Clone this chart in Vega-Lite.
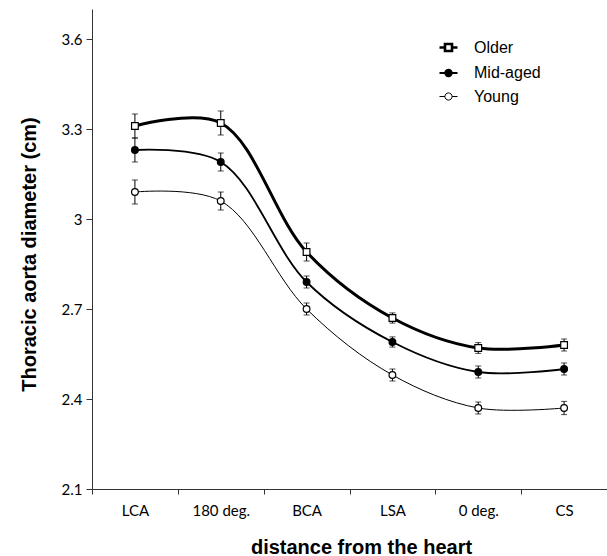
{
  "$schema": "https://vega.github.io/schema/vega-lite/v6.json",
  "width": 515,
  "height": 480,
  "autosize": {"type": "none"},
  "padding": {"left": 92, "top": 9, "right": 0, "bottom": 67},
  "background": "white",
  "config": {
    "view": {"stroke": null},
    "axis": {
      "grid": false,
      "domainColor": "#333333",
      "tickColor": "#333333",
      "labelColor": "black",
      "titleColor": "black",
      "labelFont": "Lato",
      "labelFontSize": 15,
      "titleFont": "Liberation Sans",
      "titleFontSize": 20,
      "titleFontWeight": "bold"
    }
  },
  "datasets": {
    "d": [
      {"group": "Older", "site": "LCA", "mean": 3.31, "lo": 3.27, "hi": 3.35},
      {"group": "Older", "site": "180 deg.", "mean": 3.32, "lo": 3.28, "hi": 3.36},
      {"group": "Older", "site": "BCA", "mean": 2.89, "lo": 2.86, "hi": 2.92},
      {"group": "Older", "site": "LSA", "mean": 2.67, "lo": 2.653, "hi": 2.687},
      {"group": "Older", "site": "0 deg.", "mean": 2.57, "lo": 2.552, "hi": 2.588},
      {"group": "Older", "site": "CS", "mean": 2.58, "lo": 2.56, "hi": 2.6},
      {"group": "Mid-aged", "site": "LCA", "mean": 3.23, "lo": 3.19, "hi": 3.27},
      {"group": "Mid-aged", "site": "180 deg.", "mean": 3.19, "lo": 3.16, "hi": 3.22},
      {"group": "Mid-aged", "site": "BCA", "mean": 2.79, "lo": 2.77, "hi": 2.81},
      {"group": "Mid-aged", "site": "LSA", "mean": 2.59, "lo": 2.573, "hi": 2.607},
      {"group": "Mid-aged", "site": "0 deg.", "mean": 2.49, "lo": 2.47, "hi": 2.51},
      {"group": "Mid-aged", "site": "CS", "mean": 2.5, "lo": 2.48, "hi": 2.52},
      {"group": "Young", "site": "LCA", "mean": 3.09, "lo": 3.05, "hi": 3.13},
      {"group": "Young", "site": "180 deg.", "mean": 3.06, "lo": 3.03, "hi": 3.09},
      {"group": "Young", "site": "BCA", "mean": 2.7, "lo": 2.68, "hi": 2.72},
      {"group": "Young", "site": "LSA", "mean": 2.48, "lo": 2.46, "hi": 2.5},
      {"group": "Young", "site": "0 deg.", "mean": 2.37, "lo": 2.35, "hi": 2.39},
      {"group": "Young", "site": "CS", "mean": 2.37, "lo": 2.348, "hi": 2.392}
    ]
  },
  "data": {"name": "d"},
  "encoding": {
    "x": {
      "field": "site",
      "type": "nominal",
      "scale": {"type": "band", "domain": ["LCA", "180 deg.", "BCA", "LSA", "0 deg.", "CS"], "paddingInner": 0, "paddingOuter": 0},
      "axis": {
        "title": "distance from the heart",
        "labelAngle": 0,
        "tickBand": "extent",
        "tickSize": 5,
        "labelPadding": 9,
        "titleX": 269,
        "titleY": 64,
        "titleAlign": "center",
        "titleBaseline": "alphabetic"
      }
    }
  },
  "layer": [
    {
      "transform": [{"filter": "datum.group === 'Older'"}],
      "mark": {"type": "line", "interpolate": "catmull-rom", "color": "black", "strokeWidth": 3},
      "encoding": {
        "y": {
          "field": "mean",
          "type": "quantitative",
          "title": "Thoracic aorta diameter (cm)",
          "scale": {"domain": [2.1, 3.7], "nice": false, "zero": false},
          "axis": {
            "values": [2.1, 2.4, 2.7, 3, 3.3, 3.6],
            "format": "~g",
            "tickSize": 6,
            "labelPadding": 4,
            "titleX": -57,
            "titleY": 245,
            "titleAngle": 270,
            "titleAlign": "center",
            "titleBaseline": "alphabetic"
          }
        }
      }
    },
    {
      "transform": [{"filter": "datum.group === 'Mid-aged'"}],
      "mark": {"type": "line", "interpolate": "catmull-rom", "color": "black", "strokeWidth": 1.8},
      "encoding": {"y": {"field": "mean", "type": "quantitative", "title": "Thoracic aorta diameter (cm)"}}
    },
    {
      "transform": [{"filter": "datum.group === 'Young'"}],
      "mark": {"type": "line", "interpolate": "catmull-rom", "color": "black", "strokeWidth": 1},
      "encoding": {"y": {"field": "mean", "type": "quantitative", "title": "Thoracic aorta diameter (cm)"}}
    },
    {
      "mark": {"type": "rule", "color": "black", "strokeWidth": 1},
      "encoding": {
        "detail": {"field": "group", "type": "nominal"},
        "y": {"field": "lo", "type": "quantitative", "title": "Thoracic aorta diameter (cm)"},
        "y2": {"field": "hi"}
      }
    },
    {
      "mark": {"type": "tick", "color": "black", "size": 6, "thickness": 1},
      "encoding": {
        "detail": {"field": "group", "type": "nominal"},
        "y": {"field": "lo", "type": "quantitative", "title": "Thoracic aorta diameter (cm)"}
      }
    },
    {
      "mark": {"type": "tick", "color": "black", "size": 6, "thickness": 1},
      "encoding": {
        "detail": {"field": "group", "type": "nominal"},
        "y": {"field": "hi", "type": "quantitative", "title": "Thoracic aorta diameter (cm)"}
      }
    },
    {
      "mark": {"type": "point", "filled": true, "stroke": "black", "strokeWidth": 1.2, "size": 45, "opacity": 1},
      "encoding": {
        "y": {"field": "mean", "type": "quantitative", "title": "Thoracic aorta diameter (cm)"},
        "shape": {
          "field": "group",
          "type": "nominal",
          "scale": {"domain": ["Older", "Mid-aged", "Young"], "range": ["square", "circle", "circle"]},
          "legend": null
        },
        "fill": {
          "field": "group",
          "type": "nominal",
          "scale": {"domain": ["Older", "Mid-aged", "Young"], "range": ["white", "black", "white"]},
          "legend": null
        }
      }
    },
    {
      "transform": [{"filter": "false"}],
      "mark": {"type": "point", "filled": true, "stroke": "black", "strokeWidth": 1.5, "size": 324, "opacity": 1},
      "encoding": {
        "y": {"field": "mean", "type": "quantitative", "title": "Thoracic aorta diameter (cm)"},
        "shape": {
          "field": "group",
          "type": "nominal",
          "scale": {
            "domain": ["Older", "Mid-aged", "Young"],
            "range": [
              "M-1,0H-0.39M0.39,0H1M-0.39,-0.39H0.39V0.39H-0.39Z",
              "M-1,0H1M-0.37,0A0.37,0.37,0,1,0,0.37,0A0.37,0.37,0,1,0,-0.37,0Z",
              "M-1,0H-0.4M0.4,0H1M-0.4,0A0.4,0.4,0,1,0,0.4,0A0.4,0.4,0,1,0,-0.4,0Z"
            ]
          },
          "legend": {
            "orient": "none",
            "legendX": 346,
            "legendY": 28,
            "title": null,
            "padding": 0,
            "symbolSize": 324,
            "labelFont": "Liberation Sans",
            "labelFontSize": 16,
            "labelColor": "black",
            "labelOffset": 15,
            "rowPadding": 6
          }
        },
        "fill": {
          "field": "group",
          "type": "nominal",
          "scale": {"domain": ["Older", "Mid-aged", "Young"], "range": ["white", "black", "white"]},
          "legend": {
            "orient": "none",
            "legendX": 346,
            "legendY": 28,
            "title": null,
            "padding": 0,
            "symbolSize": 324,
            "labelFont": "Liberation Sans",
            "labelFontSize": 16,
            "labelColor": "black",
            "labelOffset": 15,
            "rowPadding": 6
          }
        },
        "strokeWidth": {
          "field": "group",
          "type": "ordinal",
          "scale": {"type": "point", "padding": 0, "domain": ["Older", "Mid-aged", "Young"], "range": [2.6, 1]},
          "legend": {
            "orient": "none",
            "legendX": 346,
            "legendY": 28,
            "title": null,
            "padding": 0,
            "symbolSize": 324,
            "labelFont": "Liberation Sans",
            "labelFontSize": 16,
            "labelColor": "black",
            "labelOffset": 15,
            "rowPadding": 6
          }
        }
      }
    }
  ],
  "resolve": {"scale": {"shape": "independent", "fill": "independent", "strokeWidth": "independent"}}
}
